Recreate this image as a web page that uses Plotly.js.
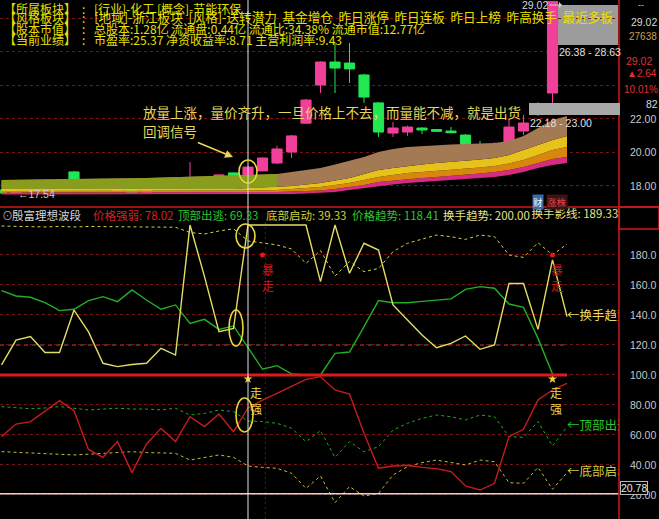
<!DOCTYPE html>
<html><head><meta charset="utf-8">
<script src="https://cdn.plot.ly/plotly-3.0.1.min.js"></script>
<style>html,body{margin:0;padding:0;background:#000;}#chart{width:659px;height:519px;}</style>
</head><body><div id="chart"></div>
<script>
// ---------- DATA ----------
const bars = [0,1,2,3,4,5,6,7,8,9,10,11,12,13,14,15,16,17,18,19,20,21,22,23,24,25,26,27,28,29,30,31,32,33,34,35,36,37,38,39];
const candleBars = [0,1,2,3,4,5,6,7,8,9,10,11,12,13,14,15,16,17,18,19,20,21,22,23,24,25,26,27,28,29,30,31,32,33,34,35,36,37,38];
const openP  = [17.76,17.58,17.70,17.76,17.94,18.84,18.18,17.84,17.70,17.88,17.58,17.88,18.18,18.06,18.18,18.36,18.78,18.48,18.90,19.37,20.03,21.75,24.03,25.40,25.34,24.63,22.96,21.16,21.22,21.46,21.37,21.28,21.04,20.45,20.27,20.27,21.28,22.30,23.55];
const highP  = [17.80,17.78,17.80,17.98,18.22,18.90,18.22,17.98,17.98,17.92,17.92,18.16,18.20,19.43,18.44,18.70,18.80,19.16,19.70,20.40,21.05,23.20,25.45,26.54,26.54,24.70,23.00,21.82,21.60,21.50,21.40,21.52,21.10,20.69,20.60,22.06,22.24,23.00,29.02];
const lowP   = [17.54,17.55,17.66,17.74,17.92,18.02,17.80,17.80,17.68,17.56,17.56,17.86,17.92,18.04,18.16,18.34,18.46,18.46,18.88,19.30,19.67,21.70,23.55,23.55,24.15,22.96,20.93,20.93,20.99,21.10,21.22,21.16,20.40,19.91,20.00,20.20,21.04,22.18,22.96];
const closeP = [17.58,17.74,17.76,17.94,18.18,18.06,17.82,17.94,17.94,17.58,17.88,18.12,17.94,18.48,18.36,18.66,18.48,19.13,19.67,20.21,20.99,23.13,25.40,25.04,24.99,23.31,21.22,21.46,21.52,21.34,21.26,21.18,20.45,20.27,20.39,21.52,21.76,22.90,29.02];

// moving-average ribbon edges (price)
const ribbonTop    = [18.36,18.36,18.38,18.38,18.40,18.42,18.42,18.44,18.44,18.46,18.48,18.50,18.52,18.54,18.56,18.60,18.63,18.66,18.69,18.72,18.84,18.95,19.07,19.28,19.49,19.73,20.03,20.21,20.33,20.39,20.45,20.48,20.51,20.54,20.57,20.69,20.99,21.46,21.94,22.18];
const ribbonYellow = [17.82,17.82,17.82,17.82,17.82,17.82,17.82,17.82,17.82,17.82,17.82,17.82,17.82,17.82,17.82,17.82,17.82,17.88,17.91,17.94,18.00,18.09,18.18,18.33,18.48,18.72,18.96,19.07,19.19,19.28,19.37,19.43,19.49,19.58,19.67,19.85,20.15,20.45,20.75,20.99];
const ribbonOrange = [17.70,17.70,17.70,17.70,17.70,17.70,17.70,17.70,17.70,17.70,17.70,17.70,17.70,17.70,17.70,17.70,17.70,17.70,17.73,17.76,17.82,17.88,17.94,18.06,18.18,18.36,18.54,18.66,18.78,18.84,18.90,18.96,19.01,19.10,19.19,19.34,19.55,19.85,20.15,20.33];
const ribbonPink   = [17.61,17.61,17.61,17.61,17.61,17.61,17.61,17.61,17.61,17.61,17.61,17.61,17.61,17.61,17.61,17.61,17.61,17.61,17.63,17.64,17.67,17.70,17.73,17.82,17.94,18.06,18.24,18.33,18.42,18.48,18.54,18.60,18.66,18.75,18.84,18.96,19.13,19.37,19.61,19.73];
const ribbonBottom = [17.49,17.49,17.49,17.49,17.49,17.49,17.49,17.49,17.49,17.49,17.49,17.49,17.49,17.49,17.49,17.49,17.49,17.49,17.50,17.52,17.52,17.55,17.58,17.64,17.76,17.88,18.00,18.09,18.18,18.24,18.30,18.36,18.42,18.48,18.54,18.66,18.84,19.07,19.25,19.37];

// indicator series
const turnShadow   = [199.3,199,198.7,198.7,199,198.7,199,199,198.5,199,198.5,198.7,198.5,195,194,196,197.5,189.33,188.2,186.7,184,174.4,182.9,166,175.6,168.9,171,182.2,187.8,190.4,193.3,192.2,190.4,193.3,192.2,180,178.4,188.2,180,187.3];
const turnTrend    = [106.7,123.3,125.6,115,115,143.3,128.7,107.8,105.6,107,107.8,117.8,113.3,200,165.6,128.9,131,200,200,200,200,200,162.2,200,167.8,187.8,183.3,146.7,136.7,126.7,118.2,121.1,126,117.1,120,161,161,130.4,176.7,138.9];
const priceTrend   = [156.2,152.7,151.8,148.2,142.9,143.8,149.6,152.2,148.9,156.7,150,143.8,146.7,134.4,137.1,130.4,132.7,118.41,103.8,106.2,100.7,100,100,114.4,115.3,132.2,149.6,148.2,148.2,149.1,150,150.7,157.1,158.9,157.8,147.3,145.1,124.4,100.7,null];
const priceStrength= [58.9,67.3,68.9,76.2,82.9,76.2,50.4,45.1,55.6,34.9,54,64.4,55.6,72.2,65.6,74,62.2,78.02,83.3,87.8,92.2,97.1,98.9,90,87.3,61.1,37.8,39.3,39.8,38.4,37.6,35.6,26,23.3,27.8,58.9,63.8,83.3,90,94.4];
const topEscape    = [78.9,78,77.5,78,78.9,77.8,76.7,77.3,77.8,77.3,77.3,76.7,77.8,73.3,74.4,76.7,75.6,69.33,68.9,67.8,64.5,55.6,62.9,45.1,55.6,48.9,52.2,63.3,67.8,71.1,73.3,72.2,70,73.3,72.2,58.9,58.4,68.9,52.7,65.6];
const bottomStart  = [48.9,48.5,47.8,47.8,47.2,46.7,47.2,47.8,48.3,48.9,48.3,47.8,47.8,43.3,45.1,46.7,45.1,39.33,38.4,37.8,34.5,24.4,32.7,14.9,25.6,19.3,21.1,33.3,38.9,41.6,43.3,41.6,40,43.3,42.2,28.2,27.8,38.4,23.8,34.9];

const burstBars = [18, 38], burstLevel = [180, 180];
const strongBars = [17, 38], strongLevel = [97.3, 97.3];
const cursorBar = 17;
const lastLineLevel = 20.78;

const priceTicks = [18,20,22,24,26,28];
const priceTickText = ['18.00','20.00','22.00','','',''];
const indTicks = [20,40,60,80,100,120,140,160,180];
const indTickText = ['20.00','40.00','60.00','80.00','100.0','120.0','140.0','160.0','180.0'];

const infoLabels = ['【所属板块】','【风格板块】','【股本市值】','【当前业绩】'];
const infoText = ['[行业]-化工 [概念]-节能环保',
  '[地域]-浙江板块\u00a0\u00a0[风格]-送转潜力\u00a0\u00a0基金增仓\u00a0\u00a0昨日涨停\u00a0\u00a0昨日连板\u00a0\u00a0昨日上榜\u00a0\u00a0昨高换手\u00a0\u00a0最近多板\u00a0\u00a0最近',
  '总股本:1.28亿 流通盘:0.44亿 流通比:34.38% 流通市值:12.77亿',
  '市盈率:25.37 净资收益率:8.71 主营利润率:9.43'];

// ---------- STYLE ----------
const CJK = 'Noto Sans CJK SC, sans-serif';
const NUM = 'Liberation Sans, Arial, sans-serif';
const PR = 619; // plot right edge in px
const X = p => p / PR, Y = p => 1 - p / 519;
const YEL = '#e6e000';

function ann(text, x, y, color, size, family, extra) {
  return Object.assign({text, x: X(x), y: Y(y), xref:'paper', yref:'paper', xanchor:'left', yanchor:'middle',
    showarrow:false, font:{family: family || CJK, size: size || 12, color}}, extra || {});
}
const ax = {xaxis:'x', yaxis:'y', hoverinfo:'skip', showlegend:false};
const ax2 = {xaxis:'x', yaxis:'y2', hoverinfo:'skip', showlegend:false};

const traces = [];
// ribbons
traces.push(Object.assign({type:'scatter', x:bars, y:ribbonBottom, mode:'lines', line:{width:0}}, ax));
traces.push(Object.assign({type:'scatter', x:bars, y:ribbonPink, mode:'lines', line:{width:0}, fill:'tonexty', fillcolor:'#d62a84'}, ax));
traces.push(Object.assign({type:'scatter', x:bars, y:ribbonOrange, mode:'lines', line:{width:0}, fill:'tonexty', fillcolor:'#d9860f'}, ax));
traces.push(Object.assign({type:'scatter', x:bars, y:ribbonYellow, mode:'lines', line:{width:0}, fill:'tonexty', fillcolor:'#e6c21a'}, ax));
traces.push(Object.assign({type:'scatter', x:bars, y:ribbonTop, mode:'lines', line:{width:0}, fill:'tonexty', fillcolor:'#a47a55'}, ax));
// olive left part of ribbon
const oliveN = 20;
traces.push(Object.assign({type:'scatter', x:bars.slice(0,oliveN), y:ribbonYellow.slice(0,oliveN), mode:'lines', line:{width:0}}, ax));
traces.push(Object.assign({type:'scatter', x:bars.slice(0,oliveN), y:ribbonTop.slice(0,oliveN), mode:'lines', line:{width:0}, fill:'tonexty', fillcolor:'#8a9c1e'}, ax));
// candles
traces.push(Object.assign({type:'candlestick', x:candleBars, open:openP, high:highP, low:lowP, close:closeP,
  increasing:{line:{color:'#f0409a', width:1}, fillcolor:'#f0409a'},
  decreasing:{line:{color:'#22e652', width:1}, fillcolor:'#22e652'}, whiskerwidth:0}, ax));

// indicator lines
traces.push(Object.assign({type:'scatter', x:bars, y:turnShadow, mode:'lines', line:{color:'#d8d040', width:1, dash:'3px,3px'}}, ax2));
traces.push(Object.assign({type:'scatter', x:bars, y:topEscape, mode:'lines', line:{color:'#22a822', width:1, dash:'3px,3px'}}, ax2));
traces.push(Object.assign({type:'scatter', x:bars, y:bottomStart, mode:'lines', line:{color:'#c8bc34', width:1, dash:'3px,3px'}}, ax2));
traces.push(Object.assign({type:'scatter', x:bars, y:priceTrend, mode:'lines', line:{color:'#22b022', width:1.4}}, ax2));
traces.push(Object.assign({type:'scatter', x:bars, y:priceStrength, mode:'lines', line:{color:'#c81c1c', width:1.4}}, ax2));
traces.push(Object.assign({type:'scatter', x:bars, y:turnTrend, mode:'lines', line:{color:'#e2de64', width:1.4}}, ax2));
// signals
traces.push(Object.assign({type:'scatter', x:burstBars, y:burstLevel, mode:'markers', marker:{color:'#e01818', size:5}}, ax2));
traces.push(Object.assign({type:'scatter', x:strongBars, y:strongLevel, mode:'markers', marker:{color:'#e8d040', size:7, symbol:'star'}}, ax2));

// clipped texts
const last = bars.length - 1;
traces.push(Object.assign({type:'scatter', mode:'text', x:[last, last, last], y:[turnTrend[last], topEscape[last], bottomStart[last]],
  text:['←换手趋势','←顶部出逃','←底部启动'], textposition:'middle right', cliponaxis:true,
  textfont:{family:CJK, size:12.5, color:['#e2de64','#2ec52e','#d0c840']}}, ax2));
traces.push(Object.assign({type:'scatter', mode:'text', x:[36.55], y:[206.7], text:['换手影线: ' + turnShadow[cursorBar].toFixed(2)],
  textposition:'middle right', cliponaxis:true, textfont:{family:CJK, size:11.5, color:'#e6e28c'}}, ax2));
traces.push(Object.assign({type:'scatter', mode:'text', x:[6.4], y:[28.0], text:[infoText[1]],
  textposition:'middle right', cliponaxis:true, textfont:{family:CJK, size:12.6, color:YEL}}, ax));

// ---------- ANNOTATIONS ----------
const rowsY = [8, 18, 28.5, 39];
const annotations = [];
infoLabels.forEach((t, i) => {
  annotations.push(ann(t, 2, rowsY[i], YEL, 12));
  annotations.push(ann(':', 80, rowsY[i], YEL, 12));
  if (i !== 1) annotations.push(ann(infoText[i], 92, rowsY[i], YEL, 12));
});
// header of indicator
annotations.push(ann('⊙', 0, 215, '#a8a8a8', 11));
annotations.push(ann('殷富理想波段', 10, 215, '#d4d4d4', 11.5));
annotations.push(ann('价格强弱: ' + priceStrength[cursorBar].toFixed(2), 91, 215, '#d42020', 11.5));
annotations.push(ann('顶部出逃: ' + topEscape[cursorBar].toFixed(2), 176, 215, '#2ec52e', 11.5));
annotations.push(ann('底部启动: ' + bottomStart[cursorBar].toFixed(2), 264, 215, '#d6d23c', 11.5));
annotations.push(ann('价格趋势: ' + priceTrend[cursorBar].toFixed(2), 350, 215, '#2ec52e', 11.5));
annotations.push(ann('换手趋势: ' + turnTrend[cursorBar].toFixed(2), 441, 215, '#e6e28c', 11.5));
// price panel notes
annotations.push(ann('放量上涨，量价齐升，一旦价格上不去，而量能不减，就是出货', 141, 111.5, '#e2d75a', 13.5));
annotations.push({text:'回调信号', x: X(233), y: Y(157), xref:'paper', yref:'paper', ax:-63, ay:-26, showarrow:true,
  arrowhead:2, arrowsize:1, arrowwidth:1.6, arrowcolor:'#e2d75a', font:{family:CJK, size:13.5, color:'#e2d75a'}});
annotations.push(ann('←' + lowP[0].toFixed(2), 16, 194.5, '#d0d0d0', 10.5, NUM));
annotations.push({text: highP[38].toFixed(2), x: X(562), y: Y(5), xref:'paper', yref:'paper', ax:-27, ay:0, showarrow:true,
  arrowhead:1, arrowwidth:1, arrowcolor:'#d0d0d0', font:{family:NUM, size:10.5, color:'#d8d8d8'}});
annotations.push(ann('26.38 - 28.63', 557, 52, '#e0e0e0', 10.5, NUM));
annotations.push(ann('22.18 - 23.00', 528, 123, '#e0e0e0', 10.5, NUM));
annotations.push(ann('财', 532, 202, '#ffffff', 9.5, CJK, {bgcolor:'#3a6aa8', borderpad:0}));
annotations.push(ann('涨株', 546, 202, '#e84040', 9.5, CJK, {bgcolor:'#3a1414', borderpad:0}));
// right column
annotations.push(ann('--', 636, 5, '#c8c8c8', 9, NUM));
annotations.push(ann('29.02', 629, 22, '#d8d8d8', 10.5, NUM));
annotations.push(ann('27638', 627, 37, '#c8a050', 10, NUM));
annotations.push(ann('29.02', 624, 61, '#e03030', 10.5, NUM));
annotations.push(ann('▲2.64', 625, 74, '#e03030', 10, NUM));
annotations.push(ann('10.01%', 622, 89, '#e03030', 10, NUM));
annotations.push(ann('82', 644, 104, '#d8d8d8', 10.5, NUM));
annotations.push(ann(lastLineLevel.toFixed(2), 620, 488, '#e8e8e8', 10.5, NUM, {bgcolor:'#000', bordercolor:'#b8b8b8', borderwidth:1, borderpad:0}));
// signal words
annotations.push({text:'暴<br>走', x:18.36, y:165, xref:'x', yref:'y2', showarrow:false, font:{family:CJK, size:12, color:'#d01818'}});
annotations.push({text:'暴<br>走', x:38.3, y:165, xref:'x', yref:'y2', showarrow:false, font:{family:CJK, size:12, color:'#d01818'}});
annotations.push({text:'走<br>强', x:17.55, y:83.3, xref:'x', yref:'y2', showarrow:false, font:{family:CJK, size:12, color:'#e8d850'}});
annotations.push({text:'走<br>强', x:38.24, y:83.3, xref:'x', yref:'y2', showarrow:false, font:{family:CJK, size:12, color:'#e8d850'}});

// ---------- SHAPES ----------
const red = '#d01818';
const shapes = [
  {type:'rect', xref:'paper', yref:'paper', x0:X(558), x1:X(618), y0:Y(45), y1:Y(5), layer:'below', fillcolor:'#9c9c9c', line:{width:0}},
  {type:'line', xref:'x', yref:'y2', x0:bars[0]-0.1, x1:bars[last], y0:120, y1:120, layer:'below', line:{color:'#22a822', width:1.2, dash:'4px,4px'}},
  {type:'line', xref:'x', yref:'paper', x0:18.2, x1:18.2, y0:0, y1:Y(222), layer:'below', line:{color:'#701010', width:1, dash:'2px,3px'}},
  {type:'line', xref:'x', yref:'y2', x0:bars[0]-0.1, x1:bars[last], y0:100, y1:100, layer:'above', line:{color:'#e01a1a', width:3}},
  {type:'line', xref:'paper', yref:'y2', x0:0, x1:1, y0:lastLineLevel, y1:lastLineLevel, layer:'above', line:{color:'#d8d8d8', width:1.5}},
  {type:'line', xref:'paper', yref:'paper', x0:1, x1:1, y0:0, y1:1, layer:'above', line:{color:red, width:1.5}},
  {type:'line', xref:'paper', yref:'paper', x0:0, x1:659/PR, y0:Y(207), y1:Y(207), layer:'above', line:{color:red, width:1.5}},
  {type:'rect', xref:'paper', yref:'paper', x0:1, x1:659/PR, y0:Y(229), y1:Y(207), layer:'above', line:{color:red, width:1.5}},
  {type:'rect', xref:'paper', yref:'paper', x0:X(529), x1:X(620), y0:Y(115), y1:Y(103), layer:'above', fillcolor:'#a8a8a8', line:{width:0}},
  {type:'line', xref:'x', yref:'paper', x0:cursorBar, x1:cursorBar, y0:0, y1:1, layer:'above', line:{color:'#e4e4e4', width:1}},
  // highlight ellipses
  {type:'circle', xref:'x', yref:'y', xsizemode:'pixel', ysizemode:'pixel', xanchor:cursorBar, yanchor:(openP[17]+closeP[17])/2,
    x0:-9, x1:9, y0:-10.5, y1:12.5, layer:'above', line:{color:'#e8d840', width:1.6}},
  {type:'circle', xref:'x', yref:'y2', xsizemode:'pixel', ysizemode:'pixel', xanchor:cursorBar, yanchor:turnTrend[17],
    x0:-12, x1:7, y0:-23, y1:1, layer:'above', line:{color:'#e8d840', width:1.6}},
  {type:'circle', xref:'x', yref:'y2', xsizemode:'pixel', ysizemode:'pixel', xanchor:16, yanchor:turnTrend[16],
    x0:-4.5, x1:9.5, y0:-17.5, y1:18.5, layer:'above', line:{color:'#e8d840', width:1.6}},
  {type:'circle', xref:'x', yref:'y2', xsizemode:'pixel', ysizemode:'pixel', xanchor:cursorBar, yanchor:priceStrength[17],
    x0:-12, x1:5, y0:-24, y1:10, layer:'above', line:{color:'#e8d840', width:1.6}}
];

const yCommon = {side:'right', showline:false, zeroline:false, ticks:'', ticklabelstandoff:10,
  gridcolor:'#741414', griddash:'dot', gridwidth:1, tickfont:{family:NUM, size:10.5, color:'#c8c8c8'}, fixedrange:true};

const layout = {
  width:659, height:519, margin:{l:0, r:40, t:0, b:0},
  paper_bgcolor:'#000', plot_bgcolor:'#000', showlegend:false,
  boxgap:0.3, boxgroupgap:0,
  xaxis:{range:[-0.1034, 42.586], showgrid:false, zeroline:false, showticklabels:false, ticks:'', showline:false, rangeslider:{visible:false}, fixedrange:true},
  yaxis:Object.assign({domain:[0.6012, 1], range:[16.746, 29.104], tickvals:priceTicks, ticktext:priceTickText}, yCommon),
  yaxis2:Object.assign({domain:[0, 0.6012], range:[4, 212], tickvals:indTicks, ticktext:indTickText}, yCommon),
  annotations, shapes
};
Plotly.newPlot('chart', traces, layout, {displayModeBar:false, staticPlot:true});
</script></body></html>
